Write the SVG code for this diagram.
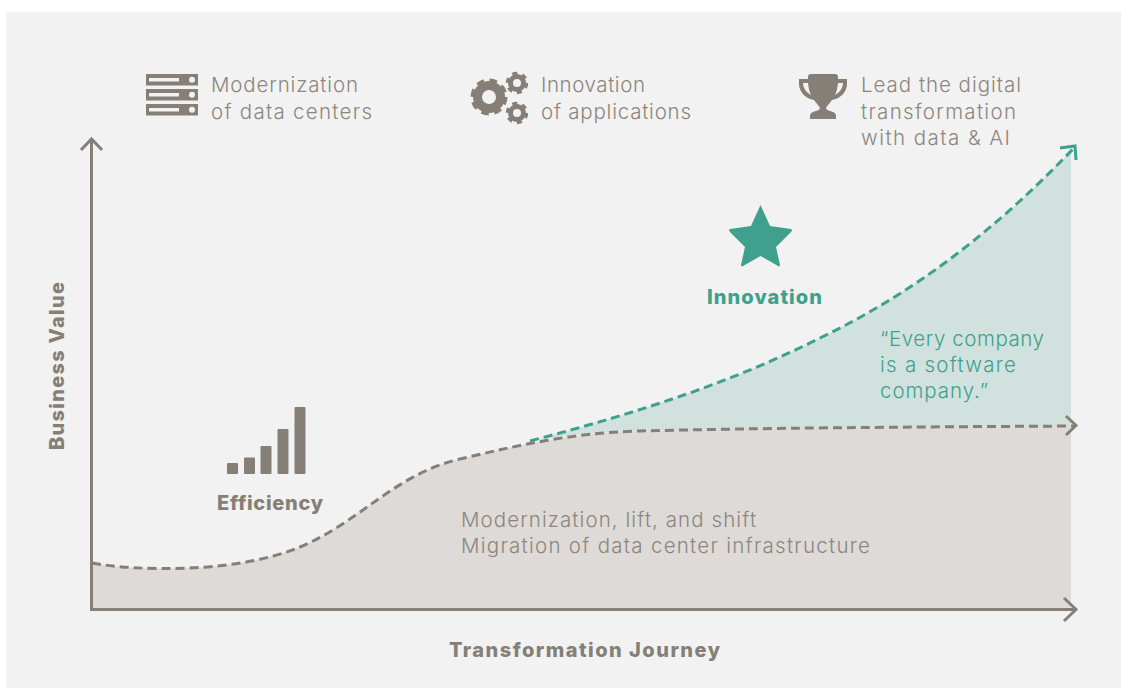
<svg xmlns="http://www.w3.org/2000/svg" width="1121" height="688" viewBox="0 0 1121 688">
<defs>
<style>
text{font-family:"Inter","Liberation Sans",sans-serif}
.t{font-size:20.500px;fill:#8c867e;font-weight:300}
.g{font-size:20.500px;fill:#3ea08d;font-weight:300}
.b{font-size:20px;font-weight:800;fill:#857f77}
.ic{fill:#857f77}
.ax{fill:none;stroke:#857f77;stroke-width:3}
.ax2{fill:none;stroke:#857f77;stroke-width:3}
.dg{fill:none;stroke:#857f77;stroke-width:3;stroke-dasharray:9 5}
.dt{fill:none;stroke:#3ea08d;stroke-width:3;stroke-dasharray:9 5}
.ring{fill:none;stroke:#857f77}
</style>
</defs>
<rect width="1121" height="688" fill="#fff"/>
<rect x="6" y="12" width="1115" height="676" fill="#f2f2f2"/>
<g id="areas">
<path d="M530,441 C640,412 730,383 820,338 C920,290 1000,225 1071,151 L1071,426 C900,427 760,428 640,431 C600,432 560,436 530,441Z" fill="#d1e2de"/>
<path d="M92,563 C135,571 235,574 300,547 C360,522 395,474 460,459 C520,445 570,433 640,431 C760,428 900,427 1071,426 L1071,609 L92,609Z" fill="#dedad7"/>
</g>
<g id="connectors">
<path class="ax" d="M91.500,140 V609.500 H1075"/>
<path class="ax" d="M81,150 L91.500,139 L102,150"/>
<path class="ax" d="M1064,598 L1076,609.500 L1064,621"/>
<path class="dt" d="M530,441 C640,412 730,383 820,338 C920,290 1000,225 1073,149"/>
<path class="ax2" d="M1060,148 L1075,146 L1076,160" style="stroke:#3ea08d"/>
<path class="dg" d="M92,563 C135,571 235,574 300,547 C360,522 395,474 460,459 C520,445 570,433 640,431 C760,428 900,427 1075,426"/>
<path class="ax2" d="M1066,416 L1076,425.500 L1066,435"/>
</g>
<g id="node-datacenters">
<g class="ic">
<rect x="146" y="74" width="52" height="11.500"/><rect x="146" y="89" width="52" height="11.500"/><rect x="146" y="104" width="52" height="11.500"/>
</g>
<g fill="#f2f2f2">
<rect x="149" y="78" width="30" height="3.500"/><rect x="149" y="93" width="30" height="3.500"/><rect x="149" y="108" width="30" height="3.500"/>
<circle cx="192" cy="79.800" r="3"/><circle cx="192" cy="94.800" r="3"/><circle cx="192" cy="109.800" r="3"/>
</g>
<text class="t" x="211" y="92" textLength="147">Modernization</text>
<text class="t" x="211" y="119" textLength="161">of data centers</text>
</g>
<g id="node-applications">
<circle class="ring" cx="489" cy="97" r="11.500" stroke-width="9"/>
<circle class="ring" cx="489" cy="97" r="16.500" stroke-width="4" stroke-dasharray="7.500 5.460"/>
<circle class="ring" cx="517" cy="83" r="6.500" stroke-width="5"/>
<circle class="ring" cx="517" cy="83" r="9.500" stroke-width="3.500" stroke-dasharray="5 4.950"/>
<circle class="ring" cx="517" cy="113" r="6.500" stroke-width="5"/>
<circle class="ring" cx="517" cy="113" r="9.500" stroke-width="3.500" stroke-dasharray="5 4.950"/>
<text class="t" x="541" y="92" textLength="104">Innovation</text>
<text class="t" x="541" y="119" textLength="150">of applications</text>
</g>
<g id="node-digital">
<path class="ic" d="M811,74 H835 Q838,74 838,77 V79 H847 V84 C847,92 840,99 832,100 C829,104 827,106 826,108 C826,110 830,111 833,112 Q836,113 836,116 V119 H810 V116 Q810,113 813,112 C816,111 820,110 820,108 C819,106 817,104 814,100 C806,99 799,92 799,84 V79 H808 V77 Q808,74 811,74Z"/>
<path d="M803,83 C803,88 807,93 811,95 C809,91 808.500,87 808,83Z M843,83 C843,88 839,93 835,95 C837,91 837.500,87 838,83Z" fill="#f2f2f2"/>
<text class="t" x="861" y="92" textLength="160">Lead the digital</text>
<text class="t" x="861" y="119" textLength="155">transformation</text>
<text class="t" x="861" y="145" textLength="149">with data &amp; AI</text>
</g>
<g id="node-innovation">
<path d="M760.500,205 L770,226 L791,229 Q793,230 791,232 L776,247 L780,265 Q780,267 778,266 L760.500,256 L743,266 Q741,267 741,265 L745,247 L730,232 Q728,230 730,229 L751,226Z" fill="#3ea08d"/>
<text x="707" y="304" textLength="115" font-size="20" font-weight="800" fill="#3ea08d">Innovation</text>
</g>
<g id="node-quote">
<text class="g" x="880" y="346" textLength="164">“Every company</text>
<text class="g" x="880" y="372" textLength="136">is a software</text>
<text class="g" x="880" y="398" textLength="108">company.”</text>
</g>
<g id="node-efficiency">
<g class="ic">
<rect x="227" y="463" width="11" height="11" rx="1"/>
<rect x="244" y="457.500" width="11" height="16.500" rx="1"/>
<rect x="260.500" y="446" width="11" height="28" rx="1"/>
<rect x="277.500" y="429" width="11" height="45" rx="1"/>
<rect x="294.500" y="407" width="11" height="67" rx="1"/>
</g>
<text class="b" x="217" y="510" textLength="106">Efficiency</text>
</g>
<g id="node-migration">
<text class="t" x="461" y="527" textLength="295">Modernization, lift, and shift</text>
<text class="t" x="461" y="553" textLength="409">Migration of data center infrastructure</text>
</g>
<g id="axis-labels">
<text class="b" x="449" y="657" textLength="271">Transformation Journey</text>
<text class="b" transform="translate(64 450) rotate(-90)" textLength="168">Business Value</text>
</g>
</svg>
